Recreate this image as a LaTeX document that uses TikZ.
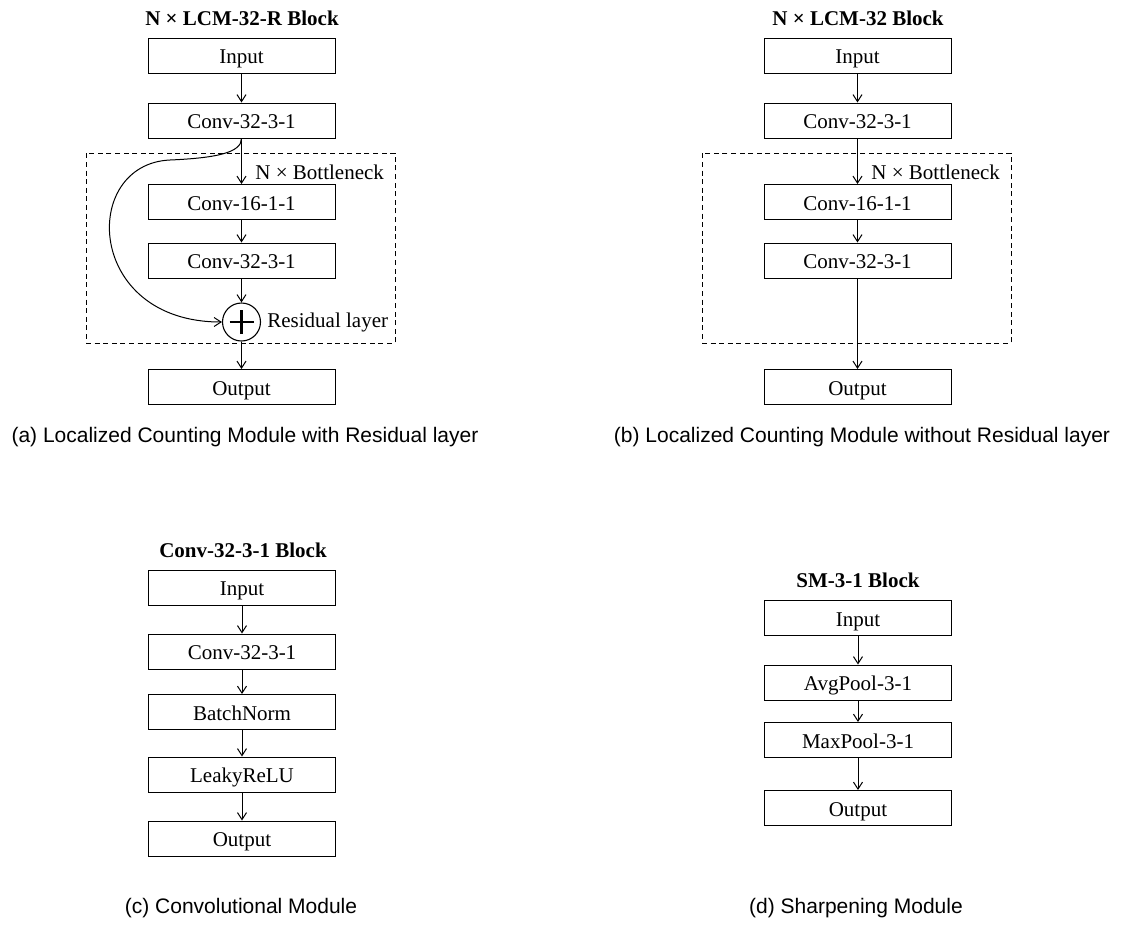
\documentclass[tikz,border=0pt]{standalone}
\usepackage{fontspec}
\setmainfont{Liberation Serif}
\newfontfamily\capfont{Liberation Sans}
\usetikzlibrary{arrows.meta}
\begin{document}
\begin{tikzpicture}[x=0.5pt,y=-0.5pt,
  font=\fontsize{10.5}{12}\selectfont,
  blk/.style={draw,line width=0.5pt,minimum width=93.5pt,minimum height=17.5pt,inner sep=0pt,text height=8pt,text depth=0pt},
  ttl/.style={font=\fontsize{10.5}{12}\selectfont\bfseries},
  captext/.style={font=\fontsize{10.5}{12}\selectfont\capfont},
  arr/.style={line width=0.5pt,-{Straight Barb[length=3.5pt,width=4.5pt]}},
  dbox/.style={draw,line width=0.5pt,dash pattern=on 2.5pt off 1.8pt},
  sumnode/.style={draw,circle,line width=0.55pt,minimum size=19pt,inner sep=0pt}]
\useasboundingbox (0,0) rectangle (1121,943);

% ---------- (a) ----------
\node[ttl] (ta) at (242,18) {N × LCM-32-R Block};
\node[blk] (ain) at (241.5,55.5) {Input};
\node[blk] (ac1) at (241.5,120.5) {Conv-32-3-1};
\node[dbox,minimum width=154.5pt,minimum height=95pt,inner sep=0pt] (adb) at (240.5,248) {};
\node[blk] (ac2) at (241.5,202) {Conv-16-1-1};
\node[blk] (ac3) at (241.5,260.5) {Conv-32-3-1};
\node[sumnode] (asum) at (241.5,322) {};
\draw[line width=1.3pt] ([xshift=-6pt]asum.center) -- ([xshift=6pt]asum.center);
\draw[line width=1.3pt] ([yshift=-6pt]asum.center) -- ([yshift=6pt]asum.center);
\node[blk] (aout) at (241.5,387) {Output};
\node[anchor=west,inner sep=0pt] (abn) at (255,172) {N × Bottleneck};
\node[anchor=west,inner sep=0pt] (ares) at (267,322) {Residual layer};
\draw[arr] (ain) -- (ac1);
\draw[arr] (ac1) -- (ac2);
\draw[arr] (ac2) -- (ac3);
\draw[arr] (ac3) -- (asum);
\draw[arr] (asum) -- (aout);
\draw[arr] (ac1.south) .. controls (241.5,153) and (215,158) .. (170,160)
  .. controls (80,164) and (85,322) .. (asum.west);
\node[captext] (capa) at (245,437) {(a) Localized Counting Module with Residual layer};

% ---------- (b) ----------
\node[ttl] (tb) at (858,18) {N × LCM-32 Block};
\node[blk] (bin) at (857.5,55.5) {Input};
\node[blk] (bc1) at (857.5,120.5) {Conv-32-3-1};
\node[dbox,minimum width=154.5pt,minimum height=95pt,inner sep=0pt] (bdb) at (856.5,248) {};
\node[blk] (bc2) at (857.5,202) {Conv-16-1-1};
\node[blk] (bc3) at (857.5,260.5) {Conv-32-3-1};
\node[blk] (bout) at (857.5,387) {Output};
\node[anchor=west,inner sep=0pt] (bbn) at (871,172) {N × Bottleneck};
\draw[arr] (bin) -- (bc1);
\draw[arr] (bc1) -- (bc2);
\draw[arr] (bc2) -- (bc3);
\draw[arr] (bc3) -- (bout);
\node[captext] (capb) at (862,437) {(b) Localized Counting Module without Residual layer};

% ---------- (c) ----------
\node[ttl] (tc) at (243,550) {Conv-32-3-1 Block};
\node[blk] (cin) at (242,587.5) {Input};
\node[blk] (cc1) at (242,651.5) {Conv-32-3-1};
\node[blk] (cbn) at (242,712) {BatchNorm};
\node[blk] (clr) at (242,774.5) {LeakyReLU};
\node[blk] (cout) at (242,838.5) {Output};
\draw[arr] (cin) -- (cc1);
\draw[arr] (cc1) -- (cbn);
\draw[arr] (cbn) -- (clr);
\draw[arr] (clr) -- (cout);
\node[captext] (capc) at (241,908) {(c) Convolutional Module};

% ---------- (d) ----------
\node[ttl] (td) at (858,580) {SM-3-1 Block};
\node[blk] (din) at (858,618) {Input};
\node[blk] (dav) at (858,682.5) {AvgPool-3-1};
\node[blk] (dmx) at (858,740) {MaxPool-3-1};
\node[blk] (dout) at (858,808) {Output};
\draw[arr] (din) -- (dav);
\draw[arr] (dav) -- (dmx);
\draw[arr] (dmx) -- (dout);
\node[captext] (capd) at (856,908) {(d) Sharpening Module};
\end{tikzpicture}
\end{document}
